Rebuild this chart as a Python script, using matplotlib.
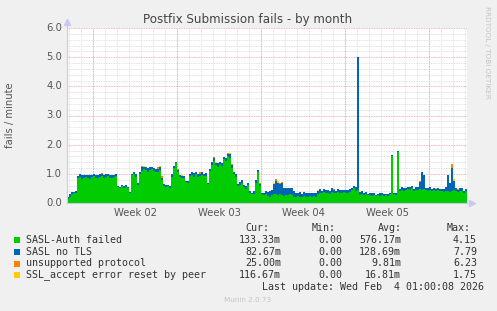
"""
Munin style chart: Postfix Submission fails - by month.
Four stacked areas drawn as steps, grid under the data, legend table below.
"""
import numpy as np
import matplotlib
matplotlib.use('Agg')
import matplotlib.pyplot as plt
from matplotlib.patches import Rectangle

W, H = 497, 311

# one value per 4 hour step, 200 steps (about 33 days)
sasl_auth = [
    0.15, 0.22, 0.30, 0.33, 0.35, 0.85, 0.88, 0.84, 0.87, 0.90, 0.86, 0.84, 0.88, 0.92, 0.87, 0.85, 0.90, 0.93, 0.86, 0.88,
    0.91, 0.87, 0.85, 0.89, 0.92, 0.55, 0.50, 0.58, 0.52, 0.56, 0.50, 0.34, 0.95, 1.00, 0.90, 0.62, 0.98, 1.10, 1.15, 1.12,
    1.08, 1.14, 1.18, 1.10, 1.05, 1.08, 1.12, 0.80, 0.60, 0.55, 0.58, 0.52, 0.90, 1.20, 1.36, 1.05, 0.88, 0.85, 0.87, 0.72,
    0.70, 0.92, 0.95, 0.90, 0.98, 0.88, 0.93, 0.96, 0.91, 0.94, 0.65, 1.10, 1.30, 1.43, 1.30, 1.25, 1.35, 1.28, 1.50, 1.45,
    1.60, 1.55, 1.20, 1.00, 0.90, 0.60, 0.62, 0.70, 0.55, 0.48, 0.62, 0.35, 0.30, 0.32, 0.70, 1.05, 0.60, 0.30, 0.28, 0.32,
    0.25, 0.22, 0.28, 0.30, 0.32, 0.28, 0.30, 0.27, 0.25, 0.28, 0.26, 0.30, 0.27, 0.22, 0.20, 0.24, 0.22, 0.20, 0.25, 0.22,
    0.20, 0.23, 0.21, 0.24, 0.22, 0.30, 0.35, 0.33, 0.38, 0.34, 0.36, 0.32, 0.38, 0.35, 0.33, 0.37, 0.34, 0.36, 0.38, 0.35,
    0.34, 0.37, 0.45, 0.50, 0.40, 0.45, 0.28, 0.32, 0.27, 0.30, 0.26, 0.28, 0.25, 0.27, 0.24, 0.26, 0.25, 0.28, 0.24, 0.26,
    0.25, 0.30, 1.60, 0.30, 0.28, 1.75, 0.40, 0.45, 0.42, 0.44, 0.48, 0.45, 0.50, 0.42, 0.46, 0.44, 0.48, 0.45, 0.47, 0.43,
    0.42, 0.45, 0.40, 0.44, 0.41, 0.43, 0.40, 0.42, 0.38, 0.40, 0.42, 0.38, 0.40, 0.45, 0.42, 0.38, 0.40, 0.42, 0.36, 0.40,
]
sasl_no_tls = [
    0.05, 0.08, 0.08, 0.06, 0.05, 0.08, 0.10, 0.12, 0.08, 0.06, 0.10, 0.12, 0.08, 0.07, 0.10, 0.12, 0.08, 0.06, 0.10, 0.12,
    0.08, 0.10, 0.12, 0.08, 0.06, 0.05, 0.06, 0.04, 0.06, 0.05, 0.06, 0.05, 0.06, 0.05, 0.08, 0.06, 0.10, 0.12, 0.08, 0.10,
    0.12, 0.08, 0.06, 0.10, 0.12, 0.08, 0.10, 0.06, 0.05, 0.06, 0.05, 0.06, 0.08, 0.06, 0.06, 0.08, 0.07, 0.08, 0.06, 0.05,
    0.06, 0.08, 0.10, 0.12, 0.08, 0.10, 0.08, 0.12, 0.10, 0.08, 0.05, 0.08, 0.10, 0.10, 0.08, 0.12, 0.06, 0.10, 0.08, 0.10,
    0.08, 0.12, 0.10, 0.08, 0.08, 0.06, 0.10, 0.08, 0.06, 0.10, 0.08, 0.06, 0.05, 0.08, 0.10, 0.08, 0.06, 0.05, 0.06, 0.08,
    0.12, 0.18, 0.15, 0.35, 0.45, 0.40, 0.35, 0.40, 0.28, 0.22, 0.25, 0.20, 0.24, 0.18, 0.15, 0.12, 0.15, 0.12, 0.14, 0.12,
    0.15, 0.12, 0.13, 0.10, 0.12, 0.10, 0.12, 0.08, 0.10, 0.12, 0.10, 0.08, 0.12, 0.10, 0.08, 0.10, 0.12, 0.10, 0.08, 0.10,
    0.12, 0.10, 0.08, 0.10, 0.15, 4.55, 0.10, 0.08, 0.06, 0.08, 0.06, 0.05, 0.08, 0.06, 0.05, 0.06, 0.08, 0.05, 0.06, 0.05,
    0.06, 0.05, 0.05, 0.06, 0.05, 0.05, 0.08, 0.10, 0.08, 0.06, 0.08, 0.10, 0.08, 0.06, 0.08, 0.10, 0.25, 0.62, 0.50, 0.10,
    0.08, 0.10, 0.08, 0.06, 0.08, 0.10, 0.08, 0.06, 0.10, 0.15, 0.54, 0.30, 0.80, 0.30, 0.10, 0.08, 0.10, 0.08, 0.06, 0.08,
]
unsupported = [
    0, 0, 0, 0, 0, 0, 0, 0, 0, 0, 0, 0, 0, 0, 0, 0, 0, .03, 0, 0,
    0, 0, 0, 0, 0, 0, 0, 0, 0, 0, 0, 0, 0, 0, 0, 0, 0, .04, 0, 0,
    0, 0, 0, 0, 0, .06, 0, .05, 0, 0, 0, 0, 0, 0, 0, .03, 0, 0, 0, 0,
    0, 0, 0, 0, 0, 0, .04, 0, 0, 0, 0, 0, 0, .05, 0, 0, 0, 0, 0, 0,
    .04, 0, .03, 0, 0, 0, 0, 0, 0, 0, 0, 0, 0, 0, 0, 0, .03, 0, 0, 0,
    0, 0, 0, 0, .06, 0, .05, .04, 0, 0, 0, 0, 0, 0, 0, 0, 0, 0, 0, 0,
    0, 0, 0, 0, 0, 0, 0, 0, 0, 0, 0, 0, 0, .03, 0, 0, 0, 0, 0, 0,
    0, 0, 0, 0, 0, 0, 0, 0, 0, 0, 0, 0, 0, 0, 0, 0, 0, 0, 0, 0,
    0, 0, 0, 0, 0, 0, 0, 0, 0, 0, 0, 0, 0, 0, 0, 0, .03, 0, 0, 0,
    0, 0, 0, 0, 0, 0, 0, 0, 0, 0, 0, 0, .15, 0, 0, .03, 0, 0, 0, 0,
]
ssl_reset = [
    0, 0, 0, 0, 0, 0, 0, 0, 0, 0, 0, 0, 0, 0, 0, 0, 0, 0, .04, 0,
    0, 0, 0, 0, 0, 0, 0, 0, 0, 0, 0, 0, 0, 0, 0, 0, 0, 0, .03, 0,
    0, 0, 0, 0, 0, 0, .04, 0, 0, 0, 0, 0, 0, 0, 0, 0, 0, .03, 0, 0,
    0, 0, 0, 0, 0, 0, 0, 0, 0, 0, 0, 0, 0, 0, .04, 0, 0, 0, 0, 0,
    0, .03, 0, 0, 0, 0, 0, 0, 0, 0, 0, 0, 0, 0, 0, 0, 0, 0, 0, 0,
    0, 0, 0, .05, 0, .08, 0, 0, 0, 0, 0, 0, 0, 0, 0, 0, 0, 0, 0, 0,
    0, 0, 0, 0, 0, .03, 0, 0, 0, 0, 0, 0, 0, 0, 0, 0, 0, 0, 0, 0,
    0, 0, 0, 0, 0, 0, 0, 0, 0, 0, 0, 0, 0, 0, 0, 0, 0, 0, 0, 0,
    0, 0, 0, 0, 0, 0, 0, 0, 0, 0, 0, 0, 0, 0, 0, 0, 0, 0, 0, 0,
    0, 0, 0, 0, .03, 0, 0, 0, 0, 0, 0, 0, 0, .06, 0, 0, 0, 0, 0, 0,
]

labels = ['SASL-Auth failed', 'SASL no TLS', 'unsupported protocol', 'SSL_accept error reset by peer']
colors = ['#00CC00', '#0066B3', '#FF8000', '#FFCC00']
cur = ['133.33m', '82.67m', '25.00m', '116.67m']
mins = ['0.00', '0.00', '0.00', '0.00']
avgs = ['576.17m', '128.69m', '9.81m', '16.81m']
maxs = ['4.15', '7.79', '6.23', '1.75']
week_labels = ['Week 02', 'Week 03', 'Week 04', 'Week 05']
first_week = 26 / 12      # first week line, days from left edge
last_update = 'Last update: Wed Feb  4 01:00:08 2026'


def fx(x):
    return x / W


def fy(y):
    return 1 - y / H


fig = plt.figure(figsize=(W / 100, H / 100), dpi=100, facecolor='#F0F0F0')
ax = fig.add_axes([fx(67), fy(203), 400 / W, 175 / H], facecolor='white')
ax.set_xlim(0, 400 / 12)
ax.set_ylim(0, 6)
for s in ax.spines.values():
    s.set_visible(False)
ax.set_xticks([])
ax.set_yticks([])

# grid (under the data)
dot = (0, (1, 1))
for k in range(31):
    y = k * 0.2
    if k % 5 == 0:
        continue
    ax.axhline(y, color='#D8D8D8', lw=0.6, ls=dot, zorder=0)
for k in range(34):
    ax.axvline(first_week - 2 + k, color='#D8D8D8', lw=0.6, ls=dot, zorder=0)
for y in range(1, 7):
    ax.axhline(y, color='#E8A0A0', lw=0.6, ls=dot, zorder=1)
weeks = [first_week + 7 * k for k in range(5)]
for x in weeks:
    ax.axvline(x, color='#E8A0A0', lw=0.6, ls=dot, zorder=1)

# stacked step areas
n = len(sasl_auth)
t = np.arange(n + 1) / 6
base = np.zeros(n)
for vals, c in zip([sasl_auth, sasl_no_tls, unsupported, ssl_reset], colors):
    top = base + np.array(vals)
    ax.fill_between(t, np.append(base, base[-1]), np.append(top, top[-1]),
                    step='post', color=c, lw=0, zorder=3)
    base = top

# axes with arrows
axis_c = '#C8C8F0'
ax.plot([0, 0], [0, 6.15], color=axis_c, lw=0.8, clip_on=False, zorder=4)
ax.plot([0, 400 / 12 + 0.3], [0, 0], color=axis_c, lw=0.8, clip_on=False, zorder=4)
ax.plot([0], [6.2], marker='^', ms=4, color=axis_c, clip_on=False, zorder=4)
ax.plot([400 / 12 + 0.4], [0], marker='>', ms=4, color=axis_c, clip_on=False, zorder=4)

# tick labels
txt = '#555555'
for v in range(7):
    fig.text(fx(62), fy(203 - v * 175 / 6), '%.1f' % v, ha='right', va='center',
             fontsize=7.2, color=txt)
for x, lab in zip(weeks, week_labels):
    fig.text(fx(67 + (x + 3.5) * 12), fy(213), lab, ha='center', va='center',
             fontsize=7.2, color=txt)

fig.text(fx(248), fy(19), 'Postfix Submission fails - by month', ha='center', va='center',
         fontsize=8.6, color='#444444')
fig.text(fx(10), fy(115), 'fails / minute', ha='center', va='center', rotation=90,
         fontsize=7.2, color=txt)
fig.text(fx(487), fy(6), 'RRDTOOL / TOBI OETIKER', ha='center', va='top', rotation=270,
         fontsize=5.2, color='#C4C4C4')

# legend table
mono = dict(family='DejaVu Sans Mono', fontsize=7.2, color='#333333', va='center')
for x, h in zip([245, 312, 378, 447], ['Cur:', 'Min:', 'Avg:', 'Max:']):
    fig.text(fx(x), fy(228), h, ha='left', **mono)
rows = [240, 252, 263.5, 275]
for i, y in enumerate(rows):
    fig.patches.append(Rectangle((fx(14), fy(y + 3)), 6 / W, 6 / H, transform=fig.transFigure,
                                 facecolor=colors[i], edgecolor='none'))
    fig.text(fx(26), fy(y), labels[i], ha='left', **mono)
    fig.text(fx(281), fy(y), cur[i], ha='right', **mono)
    fig.text(fx(342), fy(y), mins[i], ha='right', **mono)
    fig.text(fx(401), fy(y), avgs[i], ha='right', **mono)
    fig.text(fx(477), fy(y), maxs[i], ha='right', **mono)
fig.text(fx(262), fy(287), last_update, ha='left', **mono)
fig.text(fx(248), fy(300), 'Munin 2.0.73', ha='center', va='center', fontsize=5.2,
         color='#C4C4C4')

fig.savefig('out.png', dpi=100, facecolor=fig.get_facecolor())
